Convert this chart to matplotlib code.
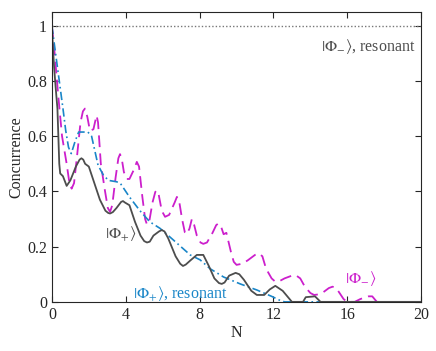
import numpy as np
import matplotlib
matplotlib.use("Agg")
import matplotlib.pyplot as plt

plt.rcParams['font.family'] = ['Liberation Serif', 'DejaVu Serif']
plt.rcParams['mathtext.fontset'] = 'stix'

# |Phi_+>, solid gray
xp = [0, 0.05, 0.12, 0.2, 0.3, 0.35, 0.4, 0.45, 0.6, 0.8, 1.0, 1.3, 1.5, 1.6, 1.7, 1.8, 2.0,
      2.3, 2.6, 2.9, 3.05, 3.15, 3.3, 3.5, 3.75, 3.85, 3.95, 4.2, 4.5, 4.8, 5.0, 5.15, 5.3, 5.5,
      5.8, 5.95, 6.1, 6.3, 6.7, 6.95, 7.1, 7.25, 7.5, 7.85, 8.2, 8.5, 8.8, 9.05, 9.2, 9.35,
      9.6, 9.95, 10.15, 10.4, 10.8, 11.1, 11.5, 11.8, 12.1, 12.5, 13.0, 13.6, 13.75, 14.25,
      14.55, 20]
yp = [1, 0.93, 0.85, 0.78, 0.70, 0.60, 0.50, 0.465, 0.455, 0.42, 0.44, 0.49, 0.515, 0.52, 0.515,
      0.50, 0.49, 0.43, 0.37, 0.33, 0.322, 0.32, 0.325, 0.34, 0.362, 0.365, 0.36, 0.35, 0.29,
      0.24, 0.22, 0.215, 0.218, 0.24, 0.255, 0.26, 0.255, 0.23, 0.165, 0.138, 0.13, 0.135, 0.15,
      0.17, 0.17, 0.13, 0.085, 0.068, 0.065, 0.07, 0.095, 0.105, 0.1, 0.08, 0.04, 0.025, 0.025,
      0.045, 0.058, 0.04, 0.0, 0.0, 0.017, 0.02, 0.0, 0.0]

# |Phi_+>, resonant, dash-dot blue
xr = [0, 0.2, 0.4, 0.6, 0.75, 0.9, 1.05, 1.25, 1.45, 1.95, 2.15, 2.5, 2.78, 3.06, 3.5,
      3.7, 4.2, 4.77, 5.3, 5.86, 6.58, 7.49, 8.03, 8.57, 9.3, 10.2, 11.1, 11.9, 12.3,
      12.6, 14.5]
yr = [1, 0.9, 0.8, 0.70, 0.62, 0.56, 0.537, 0.58, 0.615, 0.615, 0.60, 0.495, 0.46, 0.44, 0.435,
      0.43, 0.38, 0.33, 0.29, 0.266, 0.224, 0.17, 0.152, 0.12, 0.09, 0.065, 0.043, 0.02, 0.007,
      0.0, 0.0]

# |Phi_->, dashed magenta
xm = [0, 0.15, 0.34, 0.55, 0.8, 0.95, 1.07, 1.2, 1.35, 1.55, 1.68, 1.79, 1.92, 2.06, 2.25,
      2.35, 2.42, 2.5, 2.65, 2.88, 3.03, 3.15, 3.27, 3.45, 3.6, 3.69, 3.78, 3.9, 4.05, 4.2,
      4.45, 4.6, 4.72, 4.9, 5.05, 5.15, 5.27, 5.45, 5.6, 5.68, 5.78, 5.95, 6.13, 6.35, 6.65,
      6.77, 6.88, 7.05, 7.2, 7.3, 7.45, 7.58, 7.7, 7.85, 8.05, 8.2, 8.4, 8.7, 8.9, 9.02, 9.15,
      9.3, 9.45, 9.7, 9.85, 10.0, 10.3, 10.6, 11.0, 11.2, 11.4, 11.6, 11.9, 12.1, 12.35,
      12.6, 13.0, 13.2, 13.45, 13.7, 14.0, 14.2, 14.45, 14.7, 15.0, 15.2, 15.4, 15.6, 15.8,
      16.0, 16.4, 16.7, 16.9, 17.15, 17.35, 17.6]
ym = [1, 0.9, 0.75, 0.6, 0.5, 0.43, 0.41, 0.43, 0.52, 0.65, 0.69, 0.70, 0.67, 0.62, 0.625,
      0.655, 0.675, 0.65, 0.5, 0.40, 0.34, 0.326, 0.35, 0.45, 0.52, 0.535, 0.52, 0.47, 0.445, 0.445,
      0.48, 0.507, 0.49, 0.38, 0.3, 0.28, 0.29, 0.36, 0.398, 0.404, 0.39, 0.33, 0.308, 0.315, 0.36,
      0.38, 0.37, 0.3, 0.252, 0.245, 0.265, 0.30, 0.28, 0.24, 0.215, 0.21, 0.215, 0.25, 0.278, 0.284,
      0.275, 0.245, 0.25, 0.18, 0.145, 0.134, 0.138, 0.15, 0.17, 0.176, 0.165, 0.12, 0.085, 0.073,
      0.076, 0.085, 0.095, 0.097, 0.085, 0.055, 0.032, 0.025, 0.027, 0.035, 0.05, 0.055, 0.05,
      0.03, 0.01, 0.0, 0.0, 0.01, 0.015, 0.02, 0.02, 0.0]

gray = '#4d4d4d'
blue = '#1a86c8'
mag = '#cc1fcc'

fig = plt.figure(figsize=(4.36, 3.51), dpi=100)
ax = fig.add_axes([0.119, 0.14, 0.847, 0.826])

ax.axhline(1.0, color='#777777', lw=1.0, ls=(0, (1, 1.5)))
ax.plot(xm, ym, color=mag, lw=1.3, ls=(0, (6.5, 3.5)))
ax.plot(xr, yr, color=blue, lw=1.2, ls=(0, (5, 2, 1, 2)))
ax.plot(xp, yp, color=gray, lw=1.3)

fs = 11.5
ax.text(19.7, 0.925, r'$|\Phi_{-}\rangle$, resonant', color=gray, fontsize=fs, ha='right', va='center')
ax.text(2.9, 0.245, r'$|\Phi_{+}\rangle$', color=gray, fontsize=fs, ha='left', va='center')
ax.text(4.4, 0.03, r'$|\Phi_{+}\rangle$, resonant', color=blue, fontsize=fs, ha='left', va='center')
ax.text(15.9, 0.085, r'$|\Phi_{-}\rangle$', color=mag, fontsize=fs, ha='left', va='center')

ax.set_xlim(0, 20)
ax.set_ylim(0, 1.05)
ax.set_xticks([0, 4, 8, 12, 16, 20])
ax.set_yticks([0, 0.2, 0.4, 0.6, 0.8, 1])
ax.set_yticklabels(['0', '0.2', '0.4', '0.6', '0.8', '1'])
ax.tick_params(direction='in', top=True, right=True, labelsize=fs, length=4, colors='#262626')
for s in ax.spines.values():
    s.set_color('#262626')
ax.set_xlabel('N', fontsize=fs, color='#262626', labelpad=2)
ax.set_ylabel('Concurrence', fontsize=fs, color='#262626', labelpad=2)

fig.savefig('out.png', dpi=100)
